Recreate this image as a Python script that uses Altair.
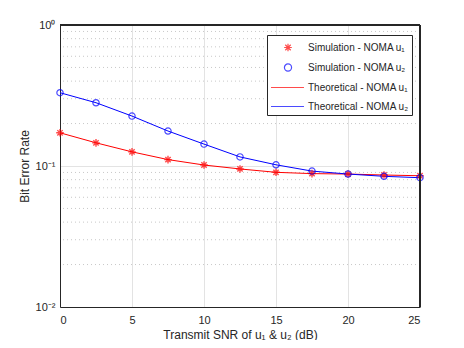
import altair as alt
import pandas as pd

snr = [0, 2.5, 5, 7.5, 10, 12.5, 15, 17.5, 20, 22.5, 25]
sim_u1 = [0.172, 0.146, 0.126, 0.111, 0.1016, 0.0953, 0.0902, 0.0883, 0.0877, 0.0863, 0.0853]
sim_u2 = [0.331, 0.281, 0.226, 0.177, 0.143, 0.116, 0.102, 0.092, 0.0877, 0.0845, 0.0826]
th_u1 = [0.172, 0.146, 0.126, 0.111, 0.1016, 0.0953, 0.0902, 0.0883, 0.0877, 0.0863, 0.0853]
th_u2 = [0.331, 0.281, 0.226, 0.177, 0.143, 0.116, 0.102, 0.092, 0.0877, 0.0845, 0.0826]

labels = ["Simulation - NOMA u\u2081", "Simulation - NOMA u\u2082",
          "Theoretical - NOMA u\u2081", "Theoretical - NOMA u\u2082"]
colors = ["#ff0000", "#0000ff", "#ff0000", "#0000ff"]
minor_grid = [0.02, 0.03, 0.04, 0.05, 0.06, 0.07, 0.08, 0.09,
              0.2, 0.3, 0.4, 0.5, 0.6, 0.7, 0.8, 0.9]

asterisk = "M-1,0L1,0M0,-1L0,1M-0.7,-0.7L0.7,0.7M-0.7,0.7L0.7,-0.7"
# legend symbols (scaled for legend symbolSize 289 -> unit 8.5px)
a = 0.45
d = 0.32
lg_star = (f"M{1-a},0L{1+a},0M1,{-a}L1,{a}M{1-d},{-d}L{1+d},{d}M{1-d},{d}L{1+d},{-d}")
r = 0.42
lg_circle = f"M{1-r},0A{r},{r} 0 1,0 {1+r},0A{r},{r} 0 1,0 {1-r},0Z"
lg_line = "M-1,0L2.88,0"

df_u1 = pd.DataFrame({"snr": snr, "ber": sim_u1})
df_u2 = pd.DataFrame({"snr": snr, "ber": sim_u2})
th1 = pd.DataFrame({"snr": snr, "ber": th_u1})
th2 = pd.DataFrame({"snr": snr, "ber": th_u2})
leg_df = pd.DataFrame({"snr": [0], "ber": [0.5], "series": [labels[0]]})
minor_df = pd.DataFrame({"v": minor_grid})

xscale = alt.Scale(domain=[0, 25], nice=False)
yscale = alt.Scale(type="log", domain=[0.01, 1], nice=False)

xaxis = alt.Axis(values=[0, 5, 10, 15, 20, 25], title="Transmit SNR of u\u2081 & u\u2082 (dB)",
                 grid=True, gridColor="#e3e3e3", ticks=False, labelPadding=7, titlePadding=4,
                 domain=True, domainColor="#262626")
yaxis = alt.Axis(values=[0.01, 0.1, 1], title="Bit Error Rate", grid=True,
                 gridColor="#e3e3e3", ticks=False, labelPadding=5,
                 labelExpr="datum.value == 1 ? '10\u2070' : datum.value == 0.1 ? '10\u207b\u00b9' : '10\u207b\u00b2'",
                 titlePadding=4, domain=True, domainColor="#262626")

X = alt.X("snr:Q", scale=xscale, axis=xaxis)
Y = alt.Y("ber:Q", scale=yscale, axis=yaxis)

minor = alt.Chart(minor_df).mark_rule(
    color="#c8c8c8", strokeDash=[1, 3], strokeWidth=1
).encode(y=alt.Y("v:Q", scale=yscale, axis=yaxis))

line1 = alt.Chart(th1).mark_line(color="#ff0000", strokeWidth=1).encode(x=X, y=Y)
line2 = alt.Chart(th2).mark_line(color="#0000ff", strokeWidth=1).encode(x=X, y=Y)
pts1 = alt.Chart(df_u1).mark_point(shape=asterisk, color="#ff0000", size=58,
                                   strokeWidth=1.4, filled=False).encode(x=X, y=Y)
pts2 = alt.Chart(df_u2).mark_point(shape="circle", color="#0000ff", size=40,
                                   strokeWidth=1.2, filled=False).encode(x=X, y=Y)

legend_layer = alt.Chart(leg_df).transform_filter("false").mark_point(filled=False).encode(
    x=X, y=Y,
    color=alt.Color("series:N", scale=alt.Scale(domain=labels, range=colors),
                    legend=alt.Legend(title=None, orient="none", legendX=207, legendY=10,
                                      strokeColor="#262626", fillColor="white", padding=3,
                                      labelFontSize=10, labelColor="#262626", labelOffset=19,
                                      rowPadding=4, symbolStrokeWidth=1.2, symbolSize=289)),
    shape=alt.Shape("series:N", scale=alt.Scale(domain=labels,
                                                range=[lg_star, lg_circle, lg_line, lg_line])),
)

top_edge = alt.Chart(minor_df).mark_rule(color="#262626", strokeWidth=1).encode(
    y=alt.datum(1, scale=yscale))
right_edge = alt.Chart(minor_df).mark_rule(color="#262626", strokeWidth=1).encode(
    x=alt.datum(25, scale=xscale))

chart = alt.layer(minor, line1, line2, pts1, pts2, legend_layer, top_edge, right_edge).properties(
    width=360, height=282,
    autosize=alt.AutoSizeParams(type="none"),
    padding={"left": 52, "top": 17, "right": 36, "bottom": 33},
).configure_view(stroke=None).configure_axis(
    labelFont="Liberation Sans", titleFont="Liberation Sans", labelFontSize=11,
    titleFontSize=12, labelColor="#262626", titleColor="#262626", titleFontWeight="normal",
).configure_legend(labelFont="Liberation Sans")

chart.save("out.html", embed_options={"renderer": "svg", "actions": False})
